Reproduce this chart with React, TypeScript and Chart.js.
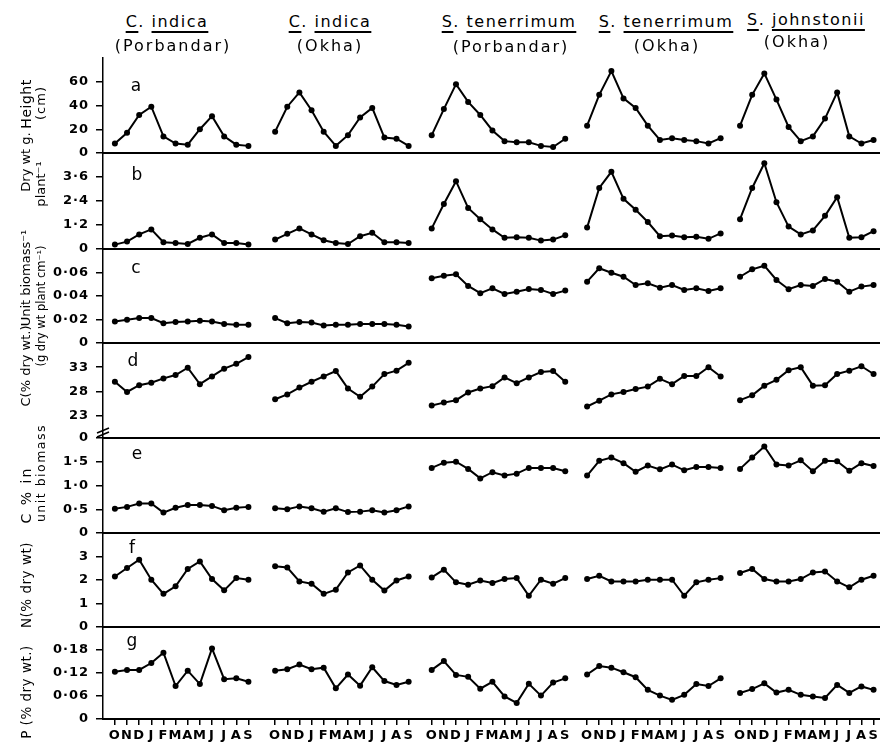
import React, { useEffect, useRef } from 'react';
import { Chart, registerables } from 'chart.js';

Chart.register(...registerables);

// ---------- categories / ticks ----------
const months = ['O', 'N', 'D', 'J', 'F', 'M', 'A', 'M', 'J', 'J', 'A', 'S'];
const speciesNames = ['C. indica', 'C. indica', 'S. tenerrimum', 'S. tenerrimum', 'S. johnstonii'];
const siteNames = ['(Porbandar)', '(Okha)', '(Porbandar)', '(Okha)', '(Okha)'];
// x position (in month units) of October for each panel column
const columnStart = [0, 13.2, 26.1, 38.9, 51.5];

// ---------- series (one array per column: C.indica P, C.indica O, S.ten P, S.ten O, S.john O) ----------
const heightCm = [
  [8, 17, 32, 39, 14, 8, 7, 20, 31, 14, 7, 6],
  [18, 39, 51, 36, 18, 6, 15, 30, 38, 13, 12, 6],
  [15, 37, 58, 43, 32, 19, 10, 9, 9, 6, 5, 12],
  [23, 49, 69, 46, 38, 23, 11, 12.5, 11, 10, 8, 12.5],
  [23, 49, 67, 45, 22, 10, 14, 29, 51, 14, 8, 11],
];
const dryWt = [
  [0.22, 0.37, 0.73, 0.98, 0.34, 0.3, 0.25, 0.56, 0.73, 0.3, 0.3, 0.22],
  [0.47, 0.76, 1.03, 0.73, 0.44, 0.3, 0.25, 0.64, 0.81, 0.34, 0.34, 0.3],
  [1.03, 2.25, 3.39, 2.05, 1.49, 0.98, 0.56, 0.59, 0.56, 0.42, 0.47, 0.69],
  [1.07, 3.05, 3.86, 2.51, 1.96, 1.35, 0.64, 0.68, 0.59, 0.61, 0.51, 0.78],
  [1.49, 3.05, 4.29, 2.34, 1.12, 0.73, 0.93, 1.66, 2.59, 0.56, 0.59, 0.89],
];
const unitBiomass = [
  [0.0183, 0.0197, 0.0212, 0.0212, 0.0169, 0.0178, 0.0183, 0.0189, 0.0183, 0.0161, 0.0155, 0.0155],
  [0.0212, 0.0169, 0.0178, 0.0175, 0.0149, 0.0155, 0.0155, 0.0161, 0.0161, 0.0161, 0.0155, 0.0141],
  [0.0551, 0.0573, 0.0585, 0.0486, 0.0424, 0.0466, 0.0418, 0.0437, 0.046, 0.0452, 0.0418, 0.0446],
  [0.0522, 0.0636, 0.0598, 0.0564, 0.0494, 0.0508, 0.0471, 0.0494, 0.0452, 0.0466, 0.0443, 0.0466],
  [0.0564, 0.0627, 0.0658, 0.0536, 0.0458, 0.0494, 0.0486, 0.0545, 0.0522, 0.0437, 0.048, 0.0494],
];
const carbonPct = [
  [30.0, 27.9, 29.3, 29.8, 30.7, 31.4, 32.9, 29.5, 31.1, 32.7, 33.7, 35.1],
  [26.4, 27.4, 28.8, 30.0, 31.1, 32.2, 28.6, 26.9, 29.0, 31.6, 32.3, 33.9],
  [25.1, 25.7, 26.2, 27.8, 28.6, 29.1, 30.9, 29.7, 30.9, 32.0, 32.2, 30.0],
  [24.9, 26.1, 27.4, 27.9, 28.5, 29.0, 30.6, 29.5, 31.2, 31.2, 33.0, 31.1],
  [26.2, 27.2, 29.2, 30.4, 32.4, 33.0, 29.2, 29.3, 31.6, 32.3, 33.2, 31.6],
];
const carbonUnit = [
  [0.51, 0.55, 0.62, 0.62, 0.43, 0.53, 0.59, 0.59, 0.57, 0.48, 0.53, 0.55],
  [0.52, 0.5, 0.56, 0.52, 0.45, 0.52, 0.44, 0.45, 0.48, 0.43, 0.48, 0.56],
  [1.37, 1.48, 1.5, 1.35, 1.15, 1.28, 1.21, 1.25, 1.37, 1.37, 1.37, 1.3],
  [1.21, 1.52, 1.59, 1.47, 1.29, 1.42, 1.34, 1.44, 1.32, 1.39, 1.39, 1.37],
  [1.35, 1.59, 1.82, 1.44, 1.42, 1.53, 1.3, 1.52, 1.51, 1.31, 1.47, 1.41],
];
const nitrogenPct = [
  [2.15, 2.51, 2.86, 2.01, 1.41, 1.73, 2.47, 2.79, 2.04, 1.56, 2.08, 2.01],
  [2.58, 2.53, 1.94, 1.84, 1.41, 1.59, 2.32, 2.62, 2.01, 1.55, 1.98, 2.15],
  [2.11, 2.44, 1.9, 1.8, 1.98, 1.87, 2.04, 2.08, 1.33, 2.01, 1.84, 2.08],
  [2.04, 2.18, 1.94, 1.94, 1.94, 2.01, 2.01, 2.01, 1.33, 1.9, 2.01, 2.08],
  [2.3, 2.47, 2.04, 1.94, 1.94, 2.04, 2.32, 2.36, 1.94, 1.69, 2.01, 2.18],
];
const phosphorusPct = [
  [0.123, 0.128, 0.128, 0.146, 0.173, 0.086, 0.126, 0.091, 0.184, 0.104, 0.106, 0.097],
  [0.126, 0.13, 0.142, 0.13, 0.134, 0.08, 0.116, 0.087, 0.135, 0.099, 0.089, 0.097],
  [0.128, 0.151, 0.115, 0.11, 0.079, 0.097, 0.059, 0.042, 0.092, 0.061, 0.095, 0.106],
  [0.116, 0.138, 0.134, 0.122, 0.109, 0.076, 0.061, 0.05, 0.063, 0.091, 0.086, 0.106],
  [0.068, 0.078, 0.093, 0.069, 0.076, 0.063, 0.059, 0.055, 0.089, 0.068, 0.085, 0.076],
];

// ---------- y tick values / labels ----------
const heightTicks = [0, 20, 40, 60];
const heightLabels = ['0', '20', '40', '60'];
const dryTicks = [0, 1.2, 2.4, 3.6];
const dryLabels = ['0', '1·2', '2·4', '3·6'];
const unitTicks = [0, 0.02, 0.04, 0.06];
const unitLabels = ['0', '0·02', '0·04', '0·06'];
const carbonTicks = [18.4, 23, 28, 33];
const carbonLabels = ['0', '23', '28', '33'];
const cUnitTicks = [0, 0.5, 1.0, 1.5];
const cUnitLabels = ['0', '0·5', '1·0', '1·5'];
const nTicks = [0, 1, 2, 3];
const nLabels = ['0', '1', '2', '3'];
const pTicks = [0, 0.06, 0.12, 0.18];
const pLabels = ['0', '0·06', '0·12', '0·18'];

const rowLetters = ['a', 'b', 'c', 'd', 'e', 'f', 'g'];

// ---------- layout ----------
const W = 900;
const AXIS_X = 103;
const PX_PER_MONTH = 12.2;
const X_MIN = -0.98;
const X_MAX = X_MIN + (W - AXIS_X) / PX_PER_MONTH;
const rowTops = [58, 153, 249, 343, 438, 533, 627];
const rowBottoms = [153, 249, 343, 438, 533, 627, 719];
const PT = 20;

const rows = [
  { data: heightCm, min: 0, max: 80, ticks: heightTicks, labels: heightLabels, dashed: true },
  { data: dryWt, min: 0, max: 4.8, ticks: dryTicks, labels: dryLabels, dashed: true },
  { data: unitBiomass, min: 0, max: 0.08, ticks: unitTicks, labels: unitLabels, dashed: true },
  { data: carbonPct, min: 18.4, max: 38, ticks: carbonTicks, labels: carbonLabels, dashed: false, brk: true },
  { data: carbonUnit, min: 0, max: 2.0, ticks: cUnitTicks, labels: cUnitLabels, dashed: false },
  { data: nitrogenPct, min: 0, max: 4, ticks: nTicks, labels: nLabels, dashed: false },
  { data: phosphorusPct, min: 0, max: 0.24, ticks: pTicks, labels: pLabels, dashed: false },
];

const xTickValues: number[] = [];
columnStart.forEach((s) => months.forEach((_, i) => xTickValues.push(s + i)));

const tickFont = { family: '"DejaVu Sans", sans-serif', size: 13, weight: 'bold' as const };

const spacingPlugin = {
  id: 'spacing',
  beforeDraw(chart: any) {
    chart.ctx.letterSpacing = '1px';
  },
};

const breakPlugin = {
  id: 'breakMark',
  afterDraw(chart: any, _a: any, opts: any) {
    if (!opts || !opts.on) return;
    const ctx = chart.ctx;
    const { left, bottom } = chart.chartArea;
    ctx.save();
    ctx.strokeStyle = '#000';
    ctx.lineWidth = 1.6;
    ctx.beginPath();
    ctx.moveTo(left - 6, bottom - 5);
    ctx.lineTo(left + 6, bottom - 10);
    ctx.moveTo(left - 6, bottom - 1);
    ctx.lineTo(left + 6, bottom - 6);
    ctx.stroke();
    ctx.restore();
  },
};

function RowChart({ r }: { r: number }) {
  const ref = useRef<HTMLCanvasElement>(null);
  const row = rows[r];
  const isLast = r === rows.length - 1;
  const B = isLast ? 40 : 20;
  const H = rowBottoms[r] - rowTops[r];
  const canvasH = PT + H + B;

  useEffect(() => {
    if (!ref.current) return;
    const datasets = row.data.map((vals, c) => ({
      data: vals.map((v, i) => ({ x: columnStart[c] + i, y: v })),
      borderColor: '#000',
      backgroundColor: '#000',
      pointBackgroundColor: '#000',
      pointBorderColor: '#000',
      pointBorderWidth: 0,
      pointRadius: 3,
      borderWidth: 2,
      tension: 0,
      clip: 6,
    }));
    const chart = new Chart(ref.current, {
      type: 'line',
      data: { datasets },
      plugins: [spacingPlugin, breakPlugin],
      options: {
        animation: false,
        responsive: false,
        devicePixelRatio: 1,
        layout: { padding: { top: PT, left: 0, right: 0, bottom: 0 } },
        plugins: {
          legend: { display: false },
          tooltip: { enabled: false },
          breakMark: { on: !!(row as any).brk },
        } as any,
        scales: {
          x: {
            type: 'linear',
            min: X_MIN,
            max: X_MAX,
            afterFit: (s: any) => {
              s.height = B;
            },
            afterBuildTicks: (s: any) => {
              s.ticks = xTickValues.map((v) => ({ value: v }));
            },
            grid: {
              display: isLast,
              drawOnChartArea: false,
              drawTicks: true,
              tickLength: 6,
              color: '#000',
              lineWidth: 1.5,
            },
            border: { display: true, color: '#000', width: 2 },
            ticks: {
              display: isLast,
              autoSkip: false,
              maxRotation: 0,
              minRotation: 0,
              padding: 3,
              color: '#000',
              font: tickFont,
              callback: (_v: any, i: number) => months[i % 12],
            },
          },
          y: {
            type: 'linear',
            min: row.min,
            max: row.max,
            afterFit: (s: any) => {
              s.width = AXIS_X;
            },
            afterBuildTicks: (s: any) => {
              s.ticks = row.ticks.map((v) => ({ value: v }));
            },
            grid: {
              drawOnChartArea: false,
              drawTicks: true,
              tickLength: 7,
              color: '#000',
              lineWidth: 1.5,
            },
            border: { display: true, color: '#000', width: 1.5, dash: row.dashed ? [4, 3] : [] },
            ticks: {
              padding: 7,
              color: '#000',
              font: tickFont,
              callback: (_v: any, i: number) => row.labels[i],
            },
          },
        },
      } as any,
    });
    return () => chart.destroy();
  }, []);

  return (
    <canvas
      ref={ref}
      width={W}
      height={canvasH}
      style={{ position: 'absolute', left: 0, top: rowTops[r] - PT, width: W, height: canvasH }}
    />
  );
}

const headerRow1 = [
  { x: 167, y: 22 },
  { x: 330, y: 22 },
  { x: 509, y: 22 },
  { x: 666, y: 22 },
  { x: 806, y: 20 },
];
const headerRow2 = [
  { x: 173, y: 46 },
  { x: 330, y: 46 },
  { x: 511, y: 47 },
  { x: 667, y: 46 },
  { x: 797, y: 42 },
];

const sideLabels = [
  { text: 'Height', x: 26, y: 104, size: 14, ls: 0.5 },
  { text: 'Dry wt g.', x: 26, y: 162, size: 13, ls: 0 },
  { text: 'Unit biomass⁻¹', x: 26, y: 278, size: 13, ls: 0 },
  { text: 'C(% dry wt.)', x: 26, y: 366, size: 13, ls: 0 },
  { text: 'C % in', x: 26, y: 495, size: 14, ls: 2 },
  { text: 'N(% dry wt)', x: 26, y: 585, size: 13.5, ls: 0.5 },
  { text: 'P (% dry wt.)', x: 26, y: 692, size: 13.5, ls: 0.5 },
  { text: '(cm)', x: 41, y: 103, size: 13, ls: 1 },
  { text: 'plant⁻¹', x: 41, y: 184, size: 13, ls: 0 },
  { text: '(g dry wt plant cm⁻¹)', x: 41, y: 306, size: 11.5, ls: 0 },
  { text: 'unit biomass', x: 41, y: 473, size: 12.5, ls: 1.5 },
];

const letterPos = [
  { x: 136, y: 85 },
  { x: 137, y: 174 },
  { x: 136, y: 267 },
  { x: 133, y: 360 },
  { x: 137, y: 453 },
  { x: 132, y: 547 },
  { x: 132, y: 640 },
];

const ul: React.CSSProperties = {
  textDecoration: 'underline',
  textDecorationThickness: '1.5px',
  textUnderlineOffset: '4px',
};

export default function App() {
  return (
    <div
      style={{
        position: 'absolute',
        left: 0,
        top: 0,
        width: 880,
        height: 750,
        overflow: 'hidden',
        background: '#fff',
        color: '#000',
        fontFamily: '"DejaVu Sans", sans-serif',
      }}
    >
      {rows.map((_, r) => (
        <RowChart key={r} r={r} />
      ))}
      {speciesNames.map((name, c) => {
        const [genus, sp] = name.split('. ');
        return (
          <div
            key={'h1' + c}
            style={{
              position: 'absolute',
              left: headerRow1[c].x,
              top: headerRow1[c].y,
              transform: 'translate(-50%, -50%)',
              fontSize: 16,
              letterSpacing: '1.5px',
              whiteSpace: 'nowrap',
              lineHeight: '20px',
            }}
          >
            <span style={ul}>{genus}</span>.{' '}
            <span style={ul}>{sp}</span>
          </div>
        );
      })}
      {siteNames.map((name, c) => (
        <div
          key={'h2' + c}
          style={{
            position: 'absolute',
            left: headerRow2[c].x,
            top: headerRow2[c].y,
            transform: 'translate(-50%, -50%)',
            fontSize: 16,
            letterSpacing: '2px',
            whiteSpace: 'nowrap',
            lineHeight: '20px',
          }}
        >
          {name}
        </div>
      ))}
      {sideLabels.map((l, i) => (
        <div
          key={'s' + i}
          style={{
            position: 'absolute',
            left: l.x,
            top: l.y,
            transform: 'translate(-50%, -50%) rotate(-90deg)',
            fontSize: l.size,
            letterSpacing: l.ls + 'px',
            whiteSpace: 'nowrap',
            lineHeight: '16px',
          }}
        >
          {l.text}
        </div>
      ))}
      {rowLetters.map((t, i) => (
        <div
          key={'l' + i}
          style={{
            position: 'absolute',
            left: letterPos[i].x,
            top: letterPos[i].y,
            transform: 'translate(-50%, -50%)',
            fontSize: 17,
            lineHeight: '18px',
          }}
        >
          {t}
        </div>
      ))}
    </div>
  );
}
